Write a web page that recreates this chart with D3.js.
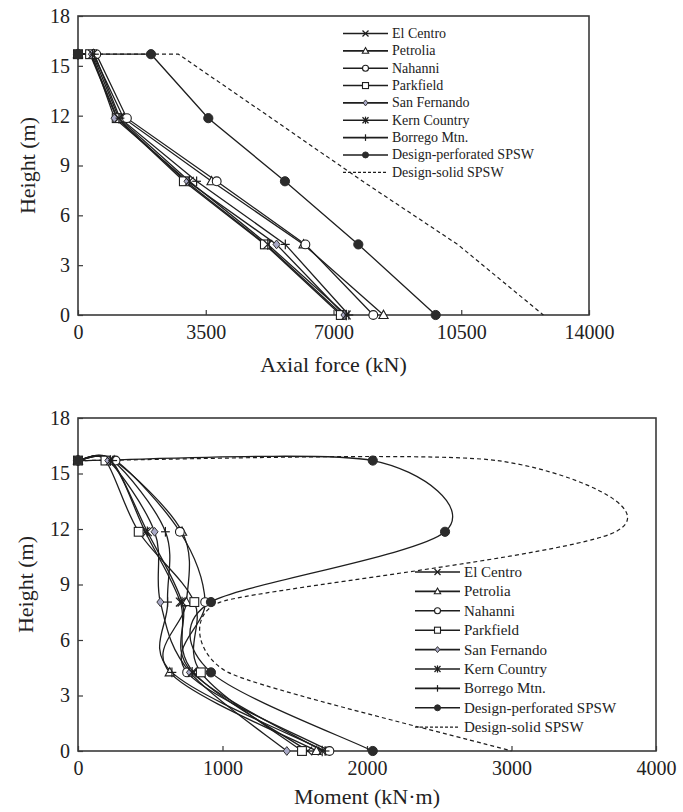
<!DOCTYPE html>
<html>
<head>
<meta charset="utf-8">
<script src="https://cdn.jsdelivr.net/npm/d3@7"></script>
<style>
  body { margin: 0; background: #fff; }
  text { font-family: "Liberation Serif", "Times New Roman", serif; fill: #222; }
</style>
</head>
<body>
<svg id="chart" width="683" height="812"></svg>
<script>
// Series labels and marker shapes (shared by both panels)
const seriesNames = ["El Centro", "Petrolia", "Nahanni", "Parkfield", "San Fernando",
  "Kern Country", "Borrego Mtn.", "Design-perforated SPSW", "Design-solid SPSW"];
const markerTypes = ["x", "triangle", "circle", "square", "diamond", "asterisk", "plus", "dot", "none"];

// Storey heights (m); the first entry is the free top end of the column
const storyHeights = [15.7, 15.7, 11.85, 8.05, 4.25, 0];
const heightTicks = [0, 3, 6, 9, 12, 15, 18];
const axialTicks = [0, 3500, 7000, 10500, 14000];
const momentTicks = [0, 1000, 2000, 3000, 4000];

// Column axial force (kN)
const axialElCentro    = [0, 350, 1080, 2950, 5150, 7250];
const axialPetrolia    = [0, 420, 1250, 3660, 6180, 8370];
const axialNahanni     = [0, 500, 1340, 3800, 6230, 8090];
const axialParkfield   = [0, 330, 1060, 2900, 5120, 7200];
const axialSanFernando = [0, 380, 1000, 3000, 5440, 7300];
const axialKern        = [0, 400, 1120, 3050, 5200, 7350];
const axialBorrego     = [0, 450, 1150, 3250, 5680, 7420];
const axialDesignPerf  = [0, 2000, 3570, 5670, 7680, 9800];
const axialDesignSolid = [0, 2750, 5300, 7800, 10400, 12750];

// Column bending moment (kN·m)
const momentElCentro    = [0, 230, 465, 708, 800, 1590];
const momentPetrolia    = [0, 250, 720, 750, 635, 1650];
const momentNahanni     = [0, 260, 705, 880, 755, 1740];
const momentParkfield   = [0, 190, 420, 805, 850, 1550];
const momentSanFernando = [0, 210, 530, 570, 775, 1445];
const momentKern        = [0, 225, 480, 720, 790, 1690];
const momentBorrego     = [0, 240, 605, 620, 650, 1710];
const momentDesignPerf  = [0, 2040, 2540, 920, 920, 2040];
const momentDesignSolid = [0, 2900, 3720, 985, 1040, 3000];

const axialSeries = [axialElCentro, axialPetrolia, axialNahanni, axialParkfield, axialSanFernando,
  axialKern, axialBorrego, axialDesignPerf, axialDesignSolid];
const momentSeries = [momentElCentro, momentPetrolia, momentNahanni, momentParkfield, momentSanFernando,
  momentKern, momentBorrego, momentDesignPerf, momentDesignSolid];

const svg = d3.select("#chart");
const ink = "#1e1e1e";

// Smoothed polyline in the style of spreadsheet "smoothed lines": cubic Bézier
// segments with Catmull-Rom tangents, each handle capped at half of the shorter
// neighbouring chord so that sharp turns do not overshoot.
function smoothPath(pts) {
  const n = pts.length;
  const dist = (a, b) => Math.hypot(b[0] - a[0], b[1] - a[1]);
  const handle = i => {
    const prev = pts[Math.max(i - 1, 0)], cur = pts[i], next = pts[Math.min(i + 1, n - 1)];
    let tx = (next[0] - prev[0]) / 6, ty = (next[1] - prev[1]) / 6;
    const chords = [dist(prev, cur), dist(cur, next)].filter(d => d > 0);
    const lim = 0.5 * Math.min(...chords);
    const len = Math.hypot(tx, ty);
    if (len > lim && len > 0) { tx *= lim / len; ty *= lim / len; }
    return [tx, ty];
  };
  const p = d3.path();
  p.moveTo(pts[0][0], pts[0][1]);
  for (let i = 0; i < n - 1; i++) {
    const a = pts[i], b = pts[i + 1], ha = handle(i), hb = handle(i + 1);
    p.bezierCurveTo(a[0] + ha[0], a[1] + ha[1], b[0] - hb[0], b[1] - hb[1], b[0], b[1]);
  }
  return p.toString();
}

// Draw one marker of the given type centred at (cx, cy); s is the half size
function drawMarker(g, type, cx, cy, s) {
  const m = g.append("g").attr("transform", `translate(${cx},${cy})`);
  const line = (x1, y1, x2, y2) => m.append("line")
    .attr("x1", x1).attr("y1", y1).attr("x2", x2).attr("y2", y2)
    .attr("stroke", ink).attr("stroke-width", 1.2);
  switch (type) {
    case "x":
      line(-s, -s, s, s); line(-s, s, s, -s); break;
    case "plus":
      line(-s, 0, s, 0); line(0, -s * 1.1, 0, s * 1.1); break;
    case "asterisk":
      line(-s, -s, s, s); line(-s, s, s, -s); line(0, -s * 1.2, 0, s * 1.2); break;
    case "triangle":
      m.append("path").attr("d", `M0,${-s * 1.1}L${s * 1.05},${s * 0.8}L${-s * 1.05},${s * 0.8}Z`)
        .attr("fill", "#fff").attr("stroke", ink).attr("stroke-width", 1.1); break;
    case "circle":
      m.append("circle").attr("r", s).attr("fill", "#fff").attr("stroke", ink).attr("stroke-width", 1.1); break;
    case "square":
      m.append("rect").attr("x", -s).attr("y", -s).attr("width", 2 * s).attr("height", 2 * s)
        .attr("fill", "#fff").attr("stroke", ink).attr("stroke-width", 1.1); break;
    case "diamond":
      m.append("path").attr("d", `M0,${-s}L${s * 0.8},0L0,${s}L${-s * 0.8},0Z`)
        .attr("fill", "#a9a9c6").attr("stroke", "#333").attr("stroke-width", 1); break;
    case "dot":
      m.append("circle").attr("r", s).attr("fill", "#2b2b2b").attr("stroke", "#2b2b2b"); break;
  }
}

function drawPanel(cfg) {
  const x = d3.scaleLinear().domain([0, cfg.xTicks[cfg.xTicks.length - 1]]).range([cfg.left, cfg.right]);
  const y = d3.scaleLinear().domain([0, 18]).range([cfg.bottom, cfg.top]);
  const g = svg.append("g");

  // frame
  g.append("rect").attr("x", cfg.left).attr("y", cfg.top)
    .attr("width", cfg.right - cfg.left).attr("height", cfg.bottom - cfg.top)
    .attr("fill", "none").attr("stroke", "#3a3a3a").attr("stroke-width", 1.6);

  // axes with inward ticks
  const xAxis = d3.axisBottom(x).tickValues(cfg.xTicks).tickSize(-5).tickPadding(10)
    .tickFormat(d3.format("d"));
  const gx = g.append("g").attr("transform", `translate(0,${cfg.bottom})`).call(xAxis);
  const yAxis = d3.axisLeft(y).tickValues(heightTicks).tickSize(-5).tickPadding(8);
  const gy = g.append("g").attr("transform", `translate(${cfg.left},0)`).call(yAxis);
  [gx, gy].forEach(a => {
    a.attr("font-family", '"Liberation Serif", "Times New Roman", serif').attr("font-size", 20);
    a.select(".domain").remove();
    a.selectAll(".tick line").attr("stroke", "#3a3a3a").attr("stroke-width", 1.2);
    a.selectAll(".tick text").attr("fill", "#222");
  });

  // axis titles
  g.append("text").attr("x", (cfg.left + cfg.right) / 2).attr("y", cfg.titleY)
    .attr("text-anchor", "middle").style("font-size", "22px").text(cfg.title);
  g.append("text").attr("transform", `translate(${cfg.yTitleX},${(cfg.top + cfg.bottom) / 2}) rotate(-90)`)
    .attr("text-anchor", "middle").attr("dominant-baseline", "central")
    .style("font-size", "22px").text("Height (m)");

  const straight = d3.line();

  // curves
  cfg.series.forEach((vals, i) => {
    const pts = vals.map((v, k) => [x(v), y(storyHeights[k])]);
    g.append("path").attr("d", cfg.smooth ? smoothPath(pts) : straight(pts)).attr("fill", "none")
      .attr("stroke", ink).attr("stroke-width", markerTypes[i] === "none" ? 1.2 : 1.3)
      .attr("stroke-dasharray", markerTypes[i] === "none" ? "4,3" : null);
  });
  // markers on top
  cfg.series.forEach((vals, i) => {
    if (markerTypes[i] === "none") return;
    vals.forEach((v, k) => drawMarker(g, markerTypes[i], x(v), y(storyHeights[k]),
      markerTypes[i] === "dot" ? 4.6 : 4.4));
  });

  // legend
  const lg = g.append("g");
  seriesNames.forEach((name, i) => {
    const ly = cfg.legend.y + i * cfg.legend.dy;
    lg.append("line").attr("x1", cfg.legend.x).attr("x2", cfg.legend.x + cfg.legend.len)
      .attr("y1", ly).attr("y2", ly).attr("stroke", ink)
      .attr("stroke-width", markerTypes[i] === "none" ? 1.2 : 1.6)
      .attr("stroke-dasharray", markerTypes[i] === "none" ? "3,2" : null);
    if (markerTypes[i] !== "none")
      drawMarker(lg, markerTypes[i], cfg.legend.x + cfg.legend.len / 2, ly, 3);
    lg.append("text").attr("x", cfg.legend.x + cfg.legend.len + 4).attr("y", ly)
      .attr("dominant-baseline", "central").style("font-size", cfg.legend.fs + "px").text(name);
  });
}

drawPanel({
  left: 78, right: 589, top: 16, bottom: 315,
  xTicks: axialTicks, series: axialSeries, smooth: false,
  title: "Axial force (kN)", titleY: 372, yTitleX: 27,
  legend: { x: 343, y: 33.5, dy: 17.35, len: 45, fs: 14 }
});

drawPanel({
  left: 78, right: 656, top: 418, bottom: 751,
  xTicks: momentTicks, series: momentSeries, smooth: true,
  title: "Moment (kN\u00b7m)", titleY: 804, yTitleX: 25,
  legend: { x: 415, y: 572, dy: 19.4, len: 45, fs: 15 }
});
</script>
</body>
</html>
